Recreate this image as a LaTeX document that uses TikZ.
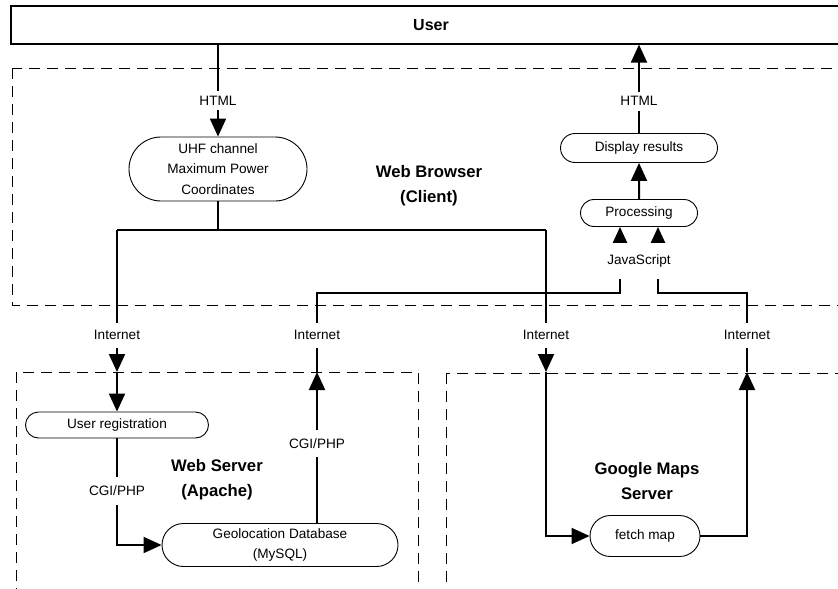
\documentclass[tikz,border=0pt]{standalone}
\usepackage{fontspec}
\setmainfont{Liberation Sans}
\usetikzlibrary{shapes.misc,arrows.meta}
\begin{document}
\begin{tikzpicture}[x=1pt,y=-1pt,
  box/.style={draw, line width=0.9pt, rounded rectangle, inner sep=0pt, font=\fontsize{13.6}{20.5}\selectfont, align=center},
  conn/.style={line width=2pt},
  arr/.style={-{Triangle[length=18pt,width=16pt]}},
  zone/.style={draw, line width=1pt, dash pattern=on 11pt off 7pt},
  lbl/.style={fill=white, inner xsep=1pt, inner ysep=0pt, font=\fontsize{13.6}{16}\selectfont},
  title/.style={font=\fontsize{16.7}{25}\selectfont\bfseries, align=center}]
\useasboundingbox (0,0) rectangle (838,589);
\clip (0,0) rectangle (838,589);
% zones
\draw[zone] (12,68) rectangle (860,305);
\draw[zone] (16,372) rectangle (418,600);
\draw[zone] (446,373) rectangle (860,600);
% nodes
\node[draw, line width=1.2pt, minimum width=840pt, minimum height=38pt, inner sep=0pt,
      font=\fontsize{16}{20}\selectfont\bfseries] (user) at (431,25) {User};
\node[box, minimum width=178pt, minimum height=64pt] (uhf) at (218,169) {UHF channel\\Maximum Power\\Coordinates};
\node[box, minimum width=157pt, minimum height=29pt] (disp) at (639,148) {Display results};
\node[box, minimum width=117pt, minimum height=27pt] (proc) at (639,213) {Processing};
\node[box, minimum width=183pt, minimum height=26pt] (reg) at (117,425) {User registration};
\node[box, minimum width=236pt, minimum height=43pt] (db) at (280,545) {Geolocation Database\\(MySQL)};
\node[box, minimum width=110pt, minimum height=41pt] (fetch) at (645,536) {fetch map};
\node[title] (tb) at (429,186) {Web Browser\\(Client)};
\node[title] (tw) at (217,480) {Web Server\\(Apache)};
\node[title] (tg) at (647,481) {Google Maps\\Server};
% coordinates
\coordinate (jL) at (117,230);
\coordinate (jR) at (546,230);
\coordinate (ws1) at (117,372);
\coordinate (ws2) at (317,372);
\coordinate (gm1) at (546,372);
\coordinate (gm2) at (747,372);
\coordinate (t1) at (620,293);
\coordinate (t2) at (658,293);
% connectors
\draw[conn,arr] (user.south -| uhf.north) -- (uhf.north);
\draw[conn,arr] (disp.north) -- (disp.north |- user.south);
\draw[conn,arr] (proc) -- (disp);
\draw[conn] (uhf.south) -- (uhf.south |- jL);
\draw[conn] (jL) -- (jR);
\draw[conn,arr] (jL) -- (ws1);
\draw[conn,arr] (ws1) -- (reg.north);
\draw[conn,arr] (reg.south) |- (db.west);
\draw[conn,arr] (db.north -| ws2) -- (ws2);
\draw[conn,arr] (ws2) |- (t1) -- (t1 |- proc.south);
\draw[conn,arr] (jR) -- (gm1);
\draw[conn,arr] (gm1) |- (fetch.west);
\draw[conn,arr] (fetch.east) -| (gm2);
\draw[conn,arr] (gm2) |- (t2) -- (t2 |- proc.south);
% labels
\node[lbl, minimum height=19pt] (h1) at (218,100.5) {HTML};
\node[lbl, minimum height=19pt] (h2) at (639,101) {HTML};
\node[lbl, minimum height=25pt] (i1) at (117,335) {Internet};
\node[lbl, minimum height=25pt] (i2) at (317,335) {Internet};
\node[lbl, minimum height=25pt] (i3) at (546,335) {Internet};
\node[lbl, minimum height=25pt] (i4) at (747,335) {Internet};
\node[lbl, minimum height=36pt, minimum width=70pt] (js) at (639,261) {JavaScript};
\node[lbl, minimum height=28pt] (c1) at (117,491) {CGI/PHP};
\node[lbl, minimum height=27pt] (c2) at (317,443.5) {CGI/PHP};
\end{tikzpicture}
\end{document}
